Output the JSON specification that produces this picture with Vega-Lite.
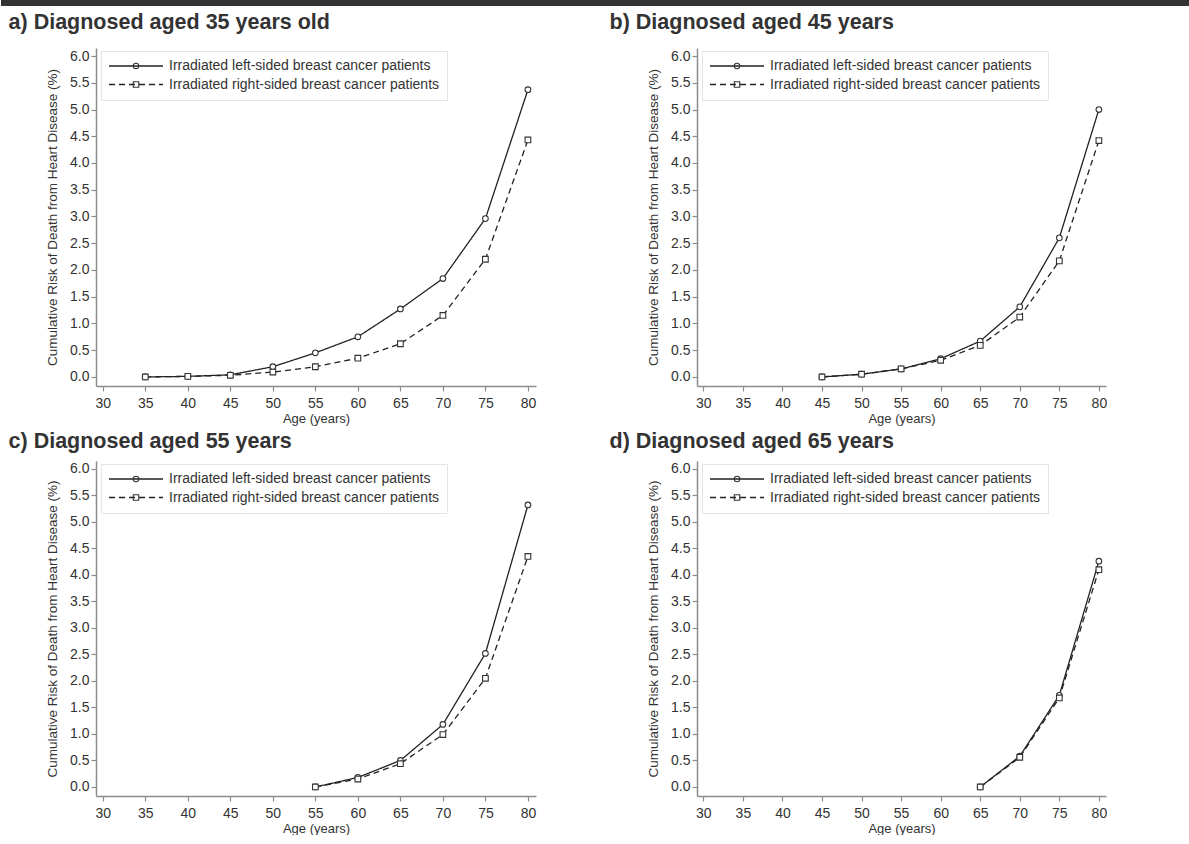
{
  "$schema": "https://vega.github.io/schema/vega-lite/v6.json",
  "padding": {"left": 0, "top": 0, "right": 0, "bottom": 0},
  "background": "white",
  "spacing": 5,
  "resolve": {"scale": {"shape": "independent", "strokeDash": "independent"}, "legend": {"shape": "independent", "strokeDash": "independent"}},
  "datasets": {
    "risk": [
      {"panel": "a", "series": "Irradiated left-sided breast cancer patients", "age": 35, "risk": 0.0},
      {"panel": "a", "series": "Irradiated left-sided breast cancer patients", "age": 40, "risk": 0.01},
      {"panel": "a", "series": "Irradiated left-sided breast cancer patients", "age": 45, "risk": 0.04},
      {"panel": "a", "series": "Irradiated left-sided breast cancer patients", "age": 50, "risk": 0.19},
      {"panel": "a", "series": "Irradiated left-sided breast cancer patients", "age": 55, "risk": 0.45},
      {"panel": "a", "series": "Irradiated left-sided breast cancer patients", "age": 60, "risk": 0.75},
      {"panel": "a", "series": "Irradiated left-sided breast cancer patients", "age": 65, "risk": 1.27},
      {"panel": "a", "series": "Irradiated left-sided breast cancer patients", "age": 70, "risk": 1.84},
      {"panel": "a", "series": "Irradiated left-sided breast cancer patients", "age": 75, "risk": 2.96},
      {"panel": "a", "series": "Irradiated left-sided breast cancer patients", "age": 80, "risk": 5.37},
      {"panel": "a", "series": "Irradiated right-sided breast cancer patients", "age": 35, "risk": 0.0},
      {"panel": "a", "series": "Irradiated right-sided breast cancer patients", "age": 40, "risk": 0.01},
      {"panel": "a", "series": "Irradiated right-sided breast cancer patients", "age": 45, "risk": 0.03},
      {"panel": "a", "series": "Irradiated right-sided breast cancer patients", "age": 50, "risk": 0.09},
      {"panel": "a", "series": "Irradiated right-sided breast cancer patients", "age": 55, "risk": 0.19},
      {"panel": "a", "series": "Irradiated right-sided breast cancer patients", "age": 60, "risk": 0.35},
      {"panel": "a", "series": "Irradiated right-sided breast cancer patients", "age": 65, "risk": 0.62},
      {"panel": "a", "series": "Irradiated right-sided breast cancer patients", "age": 70, "risk": 1.15},
      {"panel": "a", "series": "Irradiated right-sided breast cancer patients", "age": 75, "risk": 2.2},
      {"panel": "a", "series": "Irradiated right-sided breast cancer patients", "age": 80, "risk": 4.43},
      {"panel": "b", "series": "Irradiated left-sided breast cancer patients", "age": 45, "risk": 0.0},
      {"panel": "b", "series": "Irradiated left-sided breast cancer patients", "age": 50, "risk": 0.05},
      {"panel": "b", "series": "Irradiated left-sided breast cancer patients", "age": 55, "risk": 0.15},
      {"panel": "b", "series": "Irradiated left-sided breast cancer patients", "age": 60, "risk": 0.34},
      {"panel": "b", "series": "Irradiated left-sided breast cancer patients", "age": 65, "risk": 0.67},
      {"panel": "b", "series": "Irradiated left-sided breast cancer patients", "age": 70, "risk": 1.31},
      {"panel": "b", "series": "Irradiated left-sided breast cancer patients", "age": 75, "risk": 2.6},
      {"panel": "b", "series": "Irradiated left-sided breast cancer patients", "age": 80, "risk": 5.0},
      {"panel": "b", "series": "Irradiated right-sided breast cancer patients", "age": 45, "risk": 0.0},
      {"panel": "b", "series": "Irradiated right-sided breast cancer patients", "age": 50, "risk": 0.05},
      {"panel": "b", "series": "Irradiated right-sided breast cancer patients", "age": 55, "risk": 0.15},
      {"panel": "b", "series": "Irradiated right-sided breast cancer patients", "age": 60, "risk": 0.31},
      {"panel": "b", "series": "Irradiated right-sided breast cancer patients", "age": 65, "risk": 0.59},
      {"panel": "b", "series": "Irradiated right-sided breast cancer patients", "age": 70, "risk": 1.12},
      {"panel": "b", "series": "Irradiated right-sided breast cancer patients", "age": 75, "risk": 2.17},
      {"panel": "b", "series": "Irradiated right-sided breast cancer patients", "age": 80, "risk": 4.42},
      {"panel": "c", "series": "Irradiated left-sided breast cancer patients", "age": 55, "risk": 0.0},
      {"panel": "c", "series": "Irradiated left-sided breast cancer patients", "age": 60, "risk": 0.18},
      {"panel": "c", "series": "Irradiated left-sided breast cancer patients", "age": 65, "risk": 0.5},
      {"panel": "c", "series": "Irradiated left-sided breast cancer patients", "age": 70, "risk": 1.18},
      {"panel": "c", "series": "Irradiated left-sided breast cancer patients", "age": 75, "risk": 2.52},
      {"panel": "c", "series": "Irradiated left-sided breast cancer patients", "age": 80, "risk": 5.32},
      {"panel": "c", "series": "Irradiated right-sided breast cancer patients", "age": 55, "risk": 0.0},
      {"panel": "c", "series": "Irradiated right-sided breast cancer patients", "age": 60, "risk": 0.15},
      {"panel": "c", "series": "Irradiated right-sided breast cancer patients", "age": 65, "risk": 0.44},
      {"panel": "c", "series": "Irradiated right-sided breast cancer patients", "age": 70, "risk": 0.99},
      {"panel": "c", "series": "Irradiated right-sided breast cancer patients", "age": 75, "risk": 2.05},
      {"panel": "c", "series": "Irradiated right-sided breast cancer patients", "age": 80, "risk": 4.35},
      {"panel": "d", "series": "Irradiated left-sided breast cancer patients", "age": 65, "risk": 0.0},
      {"panel": "d", "series": "Irradiated left-sided breast cancer patients", "age": 70, "risk": 0.58},
      {"panel": "d", "series": "Irradiated left-sided breast cancer patients", "age": 75, "risk": 1.73},
      {"panel": "d", "series": "Irradiated left-sided breast cancer patients", "age": 80, "risk": 4.26},
      {"panel": "d", "series": "Irradiated right-sided breast cancer patients", "age": 65, "risk": 0.0},
      {"panel": "d", "series": "Irradiated right-sided breast cancer patients", "age": 70, "risk": 0.56},
      {"panel": "d", "series": "Irradiated right-sided breast cancer patients", "age": 75, "risk": 1.68},
      {"panel": "d", "series": "Irradiated right-sided breast cancer patients", "age": 80, "risk": 4.1}
    ]
  },
  "vconcat": [
    {
      "width": 1094,
      "height": 6,
      "data": {"values": [{"band": "top"}]},
      "mark": {"type": "rect", "color": "#333333"},
      "encoding": {
        "x": {"datum": 0, "type": "quantitative", "scale": {"domain": [0.0799, 1], "nice": false, "zero": false}, "axis": null},
        "x2": {"datum": 1},
        "y": {"datum": 0, "type": "quantitative", "scale": {"domain": [0, 1]}, "axis": null},
        "y2": {"datum": 1}
      }
    },
    {
      "spacing": 73,
      "resolve": {"scale": {"shape": "independent", "strokeDash": "independent"}, "legend": {"shape": "independent", "strokeDash": "independent"}},
      "hconcat": [
        {
          "width": 440, "height": 338,
          "title": {"text": "a) Diagnosed aged 35 years old", "offset": 15},
          "data": {"name": "risk"},
          "transform": [{"filter": "datum.panel === 'a'"}],
          "encoding": {
            "x": {"field": "age", "type": "quantitative", "scale": {"domain": [29.2, 80.95], "nice": false, "zero": false}, "axis": {"values": [30, 35, 40, 45, 50, 55, 60, 65, 70, 75, 80], "title": "Age (years)"}},
            "y": {"field": "risk", "type": "quantitative", "scale": {"domain": [-0.17, 6.15], "nice": false, "zero": false}, "axis": {"values": [0, 0.5, 1, 1.5, 2, 2.5, 3, 3.5, 4, 4.5, 5, 5.5, 6], "format": ".1f", "title": "Cumulative Risk of Death from Heart Disease (%)"}}
          },
          "layer": [
            {"mark": {"type": "line", "color": "#222222", "strokeWidth": 1.3}, "encoding": {"detail": {"field": "series"}, "strokeDash": {"field": "series", "type": "nominal", "scale": {"domain": ["Irradiated left-sided breast cancer patients", "Irradiated right-sided breast cancer patients"], "range": [[1, 0], [6, 4]]}, "legend": {"title": null, "orient": "none", "legendX": 5, "legendY": 3, "direction": "vertical", "padding": 7, "rowPadding": 2.5, "clipHeight": 16, "symbolType": "stroke", "symbolSize": 2916, "symbolStrokeColor": "#222222", "symbolStrokeWidth": 1.3, "labelOffset": 5, "labelFontSize": 14, "labelColor": "#333333", "labelLimit": 400, "strokeColor": "#dfe5e8"}}}},
            {"transform": [{"filter": "datum.series === 'Irradiated left-sided breast cancer patients'"}], "mark": {"type": "point", "shape": "circle", "size": 32, "filled": true, "fill": "#ffffff", "stroke": "#333333", "strokeWidth": 1.1, "opacity": 1}},
            {"transform": [{"filter": "datum.series === 'Irradiated right-sided breast cancer patients'"}], "mark": {"type": "point", "shape": "square", "size": 32, "filled": true, "fill": "#ffffff", "stroke": "#333333", "strokeWidth": 1.1, "opacity": 1}},
            {"mark": {"type": "point", "opacity": 0}, "encoding": {"shape": {"field": "series", "type": "nominal", "scale": {"range": ["circle", "square"]}, "legend": {"title": null, "orient": "none", "legendX": 5, "legendY": 3, "direction": "vertical", "padding": 7, "rowPadding": 2.5, "clipHeight": 16, "symbolSize": 30, "symbolOffset": 21, "symbolOpacity": 1, "symbolFillColor": "#555555", "symbolStrokeColor": "#333333", "symbolStrokeWidth": 1.1, "labelExpr": "''", "labelFontSize": 14}}}}
          ]
        },
        {
          "width": 409, "height": 338,
          "title": {"text": "b) Diagnosed aged 45 years", "offset": 15},
          "data": {"name": "risk"},
          "transform": [{"filter": "datum.panel === 'b'"}],
          "encoding": {
            "x": {"field": "age", "type": "quantitative", "scale": {"domain": [29.2, 80.9], "nice": false, "zero": false}, "axis": {"values": [30, 35, 40, 45, 50, 55, 60, 65, 70, 75, 80], "title": "Age (years)"}},
            "y": {"field": "risk", "type": "quantitative", "scale": {"domain": [-0.17, 6.15], "nice": false, "zero": false}, "axis": {"values": [0, 0.5, 1, 1.5, 2, 2.5, 3, 3.5, 4, 4.5, 5, 5.5, 6], "format": ".1f", "title": "Cumulative Risk of Death from Heart Disease (%)"}}
          },
          "layer": [
            {"mark": {"type": "line", "color": "#222222", "strokeWidth": 1.3}, "encoding": {"detail": {"field": "series"}, "strokeDash": {"field": "series", "type": "nominal", "scale": {"domain": ["Irradiated left-sided breast cancer patients", "Irradiated right-sided breast cancer patients"], "range": [[1, 0], [6, 4]]}, "legend": {"title": null, "orient": "none", "legendX": 5, "legendY": 3, "direction": "vertical", "padding": 7, "rowPadding": 2.5, "clipHeight": 16, "symbolType": "stroke", "symbolSize": 2916, "symbolStrokeColor": "#222222", "symbolStrokeWidth": 1.3, "labelOffset": 5, "labelFontSize": 14, "labelColor": "#333333", "labelLimit": 400, "strokeColor": "#dfe5e8"}}}},
            {"transform": [{"filter": "datum.series === 'Irradiated left-sided breast cancer patients'"}], "mark": {"type": "point", "shape": "circle", "size": 32, "filled": true, "fill": "#ffffff", "stroke": "#333333", "strokeWidth": 1.1, "opacity": 1}},
            {"transform": [{"filter": "datum.series === 'Irradiated right-sided breast cancer patients'"}], "mark": {"type": "point", "shape": "square", "size": 32, "filled": true, "fill": "#ffffff", "stroke": "#333333", "strokeWidth": 1.1, "opacity": 1}},
            {"mark": {"type": "point", "opacity": 0}, "encoding": {"shape": {"field": "series", "type": "nominal", "scale": {"range": ["circle", "square"]}, "legend": {"title": null, "orient": "none", "legendX": 5, "legendY": 3, "direction": "vertical", "padding": 7, "rowPadding": 2.5, "clipHeight": 16, "symbolSize": 30, "symbolOffset": 21, "symbolOpacity": 1, "symbolFillColor": "#555555", "symbolStrokeColor": "#333333", "symbolStrokeWidth": 1.1, "labelExpr": "''", "labelFontSize": 14}}}}
          ]
        }
      ]
    },
    {
      "spacing": 73,
      "resolve": {"scale": {"shape": "independent", "strokeDash": "independent"}, "legend": {"shape": "independent", "strokeDash": "independent"}},
      "hconcat": [
        {
          "width": 440, "height": 335,
          "title": {"text": "c) Diagnosed aged 55 years", "offset": 9},
          "data": {"name": "risk"},
          "transform": [{"filter": "datum.panel === 'c'"}],
          "encoding": {
            "x": {"field": "age", "type": "quantitative", "scale": {"domain": [29.2, 80.95], "nice": false, "zero": false}, "axis": {"values": [30, 35, 40, 45, 50, 55, 60, 65, 70, 75, 80], "title": "Age (years)"}},
            "y": {"field": "risk", "type": "quantitative", "scale": {"domain": [-0.17, 6.15], "nice": false, "zero": false}, "axis": {"values": [0, 0.5, 1, 1.5, 2, 2.5, 3, 3.5, 4, 4.5, 5, 5.5, 6], "format": ".1f", "title": "Cumulative Risk of Death from Heart Disease (%)"}}
          },
          "layer": [
            {"mark": {"type": "line", "color": "#222222", "strokeWidth": 1.3}, "encoding": {"detail": {"field": "series"}, "strokeDash": {"field": "series", "type": "nominal", "scale": {"domain": ["Irradiated left-sided breast cancer patients", "Irradiated right-sided breast cancer patients"], "range": [[1, 0], [6, 4]]}, "legend": {"title": null, "orient": "none", "legendX": 5, "legendY": 3, "direction": "vertical", "padding": 7, "rowPadding": 2.5, "clipHeight": 16, "symbolType": "stroke", "symbolSize": 2916, "symbolStrokeColor": "#222222", "symbolStrokeWidth": 1.3, "labelOffset": 5, "labelFontSize": 14, "labelColor": "#333333", "labelLimit": 400, "strokeColor": "#dfe5e8"}}}},
            {"transform": [{"filter": "datum.series === 'Irradiated left-sided breast cancer patients'"}], "mark": {"type": "point", "shape": "circle", "size": 32, "filled": true, "fill": "#ffffff", "stroke": "#333333", "strokeWidth": 1.1, "opacity": 1}},
            {"transform": [{"filter": "datum.series === 'Irradiated right-sided breast cancer patients'"}], "mark": {"type": "point", "shape": "square", "size": 32, "filled": true, "fill": "#ffffff", "stroke": "#333333", "strokeWidth": 1.1, "opacity": 1}},
            {"mark": {"type": "point", "opacity": 0}, "encoding": {"shape": {"field": "series", "type": "nominal", "scale": {"range": ["circle", "square"]}, "legend": {"title": null, "orient": "none", "legendX": 5, "legendY": 3, "direction": "vertical", "padding": 7, "rowPadding": 2.5, "clipHeight": 16, "symbolSize": 30, "symbolOffset": 21, "symbolOpacity": 1, "symbolFillColor": "#555555", "symbolStrokeColor": "#333333", "symbolStrokeWidth": 1.1, "labelExpr": "''", "labelFontSize": 14}}}}
          ]
        },
        {
          "width": 409, "height": 335,
          "title": {"text": "d) Diagnosed aged 65 years", "offset": 9},
          "data": {"name": "risk"},
          "transform": [{"filter": "datum.panel === 'd'"}],
          "encoding": {
            "x": {"field": "age", "type": "quantitative", "scale": {"domain": [29.2, 80.9], "nice": false, "zero": false}, "axis": {"values": [30, 35, 40, 45, 50, 55, 60, 65, 70, 75, 80], "title": "Age (years)"}},
            "y": {"field": "risk", "type": "quantitative", "scale": {"domain": [-0.17, 6.15], "nice": false, "zero": false}, "axis": {"values": [0, 0.5, 1, 1.5, 2, 2.5, 3, 3.5, 4, 4.5, 5, 5.5, 6], "format": ".1f", "title": "Cumulative Risk of Death from Heart Disease (%)"}}
          },
          "layer": [
            {"mark": {"type": "line", "color": "#222222", "strokeWidth": 1.3}, "encoding": {"detail": {"field": "series"}, "strokeDash": {"field": "series", "type": "nominal", "scale": {"domain": ["Irradiated left-sided breast cancer patients", "Irradiated right-sided breast cancer patients"], "range": [[1, 0], [6, 4]]}, "legend": {"title": null, "orient": "none", "legendX": 5, "legendY": 3, "direction": "vertical", "padding": 7, "rowPadding": 2.5, "clipHeight": 16, "symbolType": "stroke", "symbolSize": 2916, "symbolStrokeColor": "#222222", "symbolStrokeWidth": 1.3, "labelOffset": 5, "labelFontSize": 14, "labelColor": "#333333", "labelLimit": 400, "strokeColor": "#dfe5e8"}}}},
            {"transform": [{"filter": "datum.series === 'Irradiated left-sided breast cancer patients'"}], "mark": {"type": "point", "shape": "circle", "size": 32, "filled": true, "fill": "#ffffff", "stroke": "#333333", "strokeWidth": 1.1, "opacity": 1}},
            {"transform": [{"filter": "datum.series === 'Irradiated right-sided breast cancer patients'"}], "mark": {"type": "point", "shape": "square", "size": 32, "filled": true, "fill": "#ffffff", "stroke": "#333333", "strokeWidth": 1.1, "opacity": 1}},
            {"mark": {"type": "point", "opacity": 0}, "encoding": {"shape": {"field": "series", "type": "nominal", "scale": {"range": ["circle", "square"]}, "legend": {"title": null, "orient": "none", "legendX": 5, "legendY": 3, "direction": "vertical", "padding": 7, "rowPadding": 2.5, "clipHeight": 16, "symbolSize": 30, "symbolOffset": 21, "symbolOpacity": 1, "symbolFillColor": "#555555", "symbolStrokeColor": "#333333", "symbolStrokeWidth": 1.1, "labelExpr": "''", "labelFontSize": 14}}}}
          ]
        }
      ]
    }
  ],
  "config": {
    "font": "Liberation Sans",
    "view": {"stroke": null},
    "axis": {"grid": false, "domainColor": "#8c8c8c", "domainWidth": 1.5, "tickColor": "#8c8c8c", "tickWidth": 1.2, "tickSize": 5, "labelFont": "Liberation Sans", "labelFontSize": 14, "labelColor": "#333333", "titleFont": "Liberation Sans", "titleFontSize": 13, "titleFontWeight": "normal", "titleColor": "#333333"},
    "axisX": {"labelPadding": 5, "titlePadding": 2},
    "axisY": {"labelPadding": 2, "titlePadding": 10, "titleFontSize": 13.5},
    "legend": {"labelFont": "Liberation Sans"},
    "title": {"font": "Liberation Sans", "fontSize": 21.5, "fontWeight": "bold", "color": "#333333", "anchor": "start", "frame": "bounds", "dx": -37, "baseline": "alphabetic"}
  }
}
